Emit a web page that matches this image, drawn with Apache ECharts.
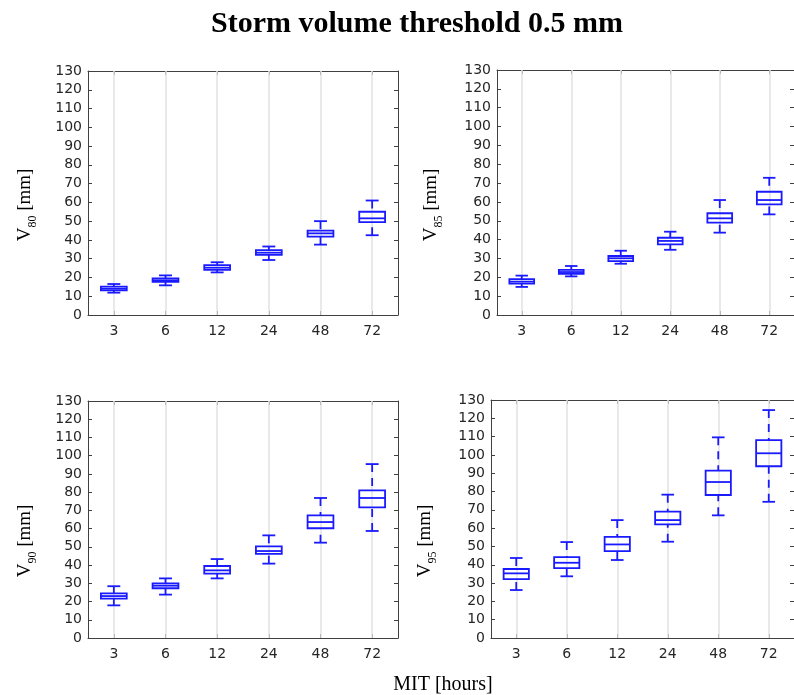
<!DOCTYPE html>
<html>
<head>
<meta charset="utf-8">
<script src="https://cdn.jsdelivr.net/npm/echarts@6/dist/echarts.min.js"></script>
<style>html,body{margin:0;padding:0;background:#fff}#c{width:794px;height:695px}</style>
</head>
<body>
<div id="c"></div>
<script>
// Categories (MIT in hours)
const categories = ['3', '6', '12', '24', '48', '72'];
// Box stats per category: [lower whisker, Q1, median, Q3, upper whisker]
const v80 = [
  [11.9, 13.1, 14.0, 15.1, 16.5],
  [15.8, 17.6, 18.5, 19.5, 21.1],
  [22.7, 24.0, 25.2, 26.6, 28.1],
  [29.3, 32.0, 33.2, 34.6, 36.5],
  [37.5, 41.8, 43.5, 45.0, 50.0],
  [42.5, 49.5, 51.5, 55.0, 61.0]
];
const v85 = [
  [14.9, 16.6, 17.7, 19.0, 20.9],
  [20.5, 21.9, 22.8, 23.9, 26.0],
  [27.2, 28.6, 30.1, 31.3, 34.1],
  [34.6, 37.5, 39.3, 41.0, 44.2],
  [43.7, 49.0, 51.3, 54.0, 61.0],
  [53.4, 58.7, 61.0, 65.4, 72.8]
];
const v90 = [
  [17.9, 21.6, 23.0, 24.5, 28.4],
  [23.8, 27.3, 28.7, 30.0, 32.7],
  [32.7, 35.3, 37.1, 39.5, 43.3],
  [40.8, 46.1, 47.7, 50.3, 56.3],
  [52.3, 60.2, 63.6, 67.3, 76.8],
  [58.7, 71.7, 76.8, 81.0, 95.4]
];
const v95 = [
  [26.2, 32.2, 35.3, 37.7, 43.7],
  [33.7, 38.2, 41.1, 44.2, 52.4],
  [42.6, 47.5, 51.1, 55.2, 64.4],
  [52.6, 62.1, 64.4, 69.0, 78.3],
  [67.0, 78.1, 85.2, 91.4, 109.6],
  [74.4, 93.8, 100.9, 108.1, 124.5]
];
const yTicks = { min: 0, max: 130, interval: 10 };
const panelNames = ['80', '85', '90', '95'];
const panelData = [v80, v85, v90, v95];

const grids = [
  { left: 88, top: 71, width: 310, height: 244 },
  { left: 497, top: 70, width: 305, height: 245 },
  { left: 88, top: 401, width: 310, height: 237 },
  { left: 491, top: 400, width: 311, height: 238 }
];

const axisColor = '#404040';
const boxColor = '#1a1aff';
const tickFont = { fontFamily: 'DejaVu Sans', fontSize: 14, color: '#262626' };

const xAxes = [], yAxes = [], series = [];
grids.forEach((g, i) => {
  xAxes.push({
    gridIndex: i, type: 'category', data: categories, position: 'bottom',
    axisLine: { onZero: false, lineStyle: { color: axisColor, width: 1 } },
    axisTick: { show: true, inside: true, alignWithLabel: true, length: 4, lineStyle: { color: axisColor } },
    axisLabel: Object.assign({ margin: 9 }, tickFont),
    splitLine: { show: false }
  });
  xAxes.push({
    gridIndex: i, type: 'category', data: categories, position: 'top',
    axisLine: { onZero: false, lineStyle: { color: axisColor, width: 1 } },
    axisTick: { show: true, inside: true, alignWithLabel: true, length: 4, lineStyle: { color: axisColor } },
    axisLabel: { show: false },
    splitLine: { show: false }
  });
  yAxes.push({
    gridIndex: i, type: 'value', position: 'left',
    min: yTicks.min, max: yTicks.max, interval: yTicks.interval,
    axisLine: { show: true, onZero: false, lineStyle: { color: axisColor, width: 1 } },
    axisTick: { show: true, inside: true, length: 4, lineStyle: { color: axisColor } },
    axisLabel: Object.assign({ margin: 6 }, tickFont),
    splitLine: { show: false }
  });
  yAxes.push({
    gridIndex: i, type: 'value', position: 'right',
    min: yTicks.min, max: yTicks.max, interval: yTicks.interval,
    axisLine: { show: true, onZero: false, lineStyle: { color: axisColor, width: 1 } },
    axisTick: { show: true, inside: true, length: 4, lineStyle: { color: axisColor } },
    axisLabel: { show: false },
    splitLine: { show: false }
  });
  series.push({
    type: 'custom',
    xAxisIndex: 2 * i, yAxisIndex: 2 * i,
    data: panelData[i].map((d, k) => [k].concat(d)),
    z: 5,
    markLine: {
      silent: true, symbol: 'none', animation: false, z: 1,
      label: { show: false },
      lineStyle: { color: '#e2e2e2', width: 1.5, type: 'solid' },
      emphasis: { disabled: true },
      data: categories.map(c => ({ xAxis: c }))
    },
    renderItem: function (params, api) {
      const x = api.value(0);
      const lo = api.coord([x, api.value(1)]);
      const q1 = api.coord([x, api.value(2)]);
      const md = api.coord([x, api.value(3)]);
      const q3 = api.coord([x, api.value(4)]);
      const hi = api.coord([x, api.value(5)]);
      const band = api.size([1, 0])[0];
      const bw = band * 0.25, cw = band * 0.125;
      const cx = md[0];
      const solid = { stroke: boxColor, lineWidth: 1.8, fill: null };
      const dashed = { stroke: boxColor, lineWidth: 1.8, lineDash: [8, 6], fill: null };
      return {
        type: 'group',
        children: [
          { type: 'line', shape: { x1: cx, y1: hi[1], x2: cx, y2: q3[1] }, style: dashed },
          { type: 'line', shape: { x1: cx, y1: lo[1], x2: cx, y2: q1[1] }, style: dashed },
          { type: 'line', shape: { x1: cx - cw, y1: hi[1], x2: cx + cw, y2: hi[1] }, style: solid },
          { type: 'line', shape: { x1: cx - cw, y1: lo[1], x2: cx + cw, y2: lo[1] }, style: solid },
          { type: 'rect', shape: { x: cx - bw, y: q3[1], width: 2 * bw, height: q1[1] - q3[1] }, style: solid },
          { type: 'line', shape: { x1: cx - bw, y1: md[1], x2: cx + bw, y2: md[1] }, style: solid }
        ]
      };
    }
  });
});

const serif = 'Liberation Serif';
const labelPos = [[24, 205], [430, 205], [24, 541], [424, 541]];
const graphics = [
  { type: 'text', x: 417, y: 24, style: { text: 'Storm volume threshold 0.5 mm', font: 'bold 30px "Liberation Serif"', fill: '#000', align: 'center', verticalAlign: 'middle' } },
  { type: 'text', x: 443, y: 685, style: { text: 'MIT [hours]', font: '20px "Liberation Serif"', fill: '#000', align: 'center', verticalAlign: 'middle' } }
];
panelNames.forEach((n, i) => {
  graphics.push({
    type: 'text', x: labelPos[i][0], y: labelPos[i][1], rotation: Math.PI / 2,
    style: {
      text: '{v|V}{s|' + n + '}{v| [mm]}',
      align: 'center', verticalAlign: 'middle',
      rich: {
        v: { fontFamily: serif, fontSize: 19, fill: '#000', lineHeight: 22, verticalAlign: 'bottom' },
        s: { fontFamily: serif, fontSize: 12, fill: '#000', lineHeight: 22, verticalAlign: 'bottom', padding: [0, 0, -4, 0] }
      }
    }
  });
});

const chart = echarts.init(document.getElementById('c'), null, { renderer: 'canvas' });
chart.setOption({
  animation: false,
  backgroundColor: '#fff',
  grid: grids,
  xAxis: xAxes,
  yAxis: yAxes,
  series: series,
  graphic: graphics
});
</script>
</body>
</html>
